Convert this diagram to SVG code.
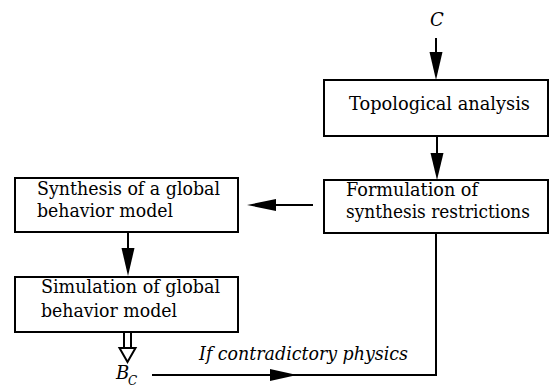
<svg xmlns="http://www.w3.org/2000/svg" width="551" height="387" viewBox="0 0 551 387">
<style>
.box{fill:#fff;stroke:#000;stroke-width:2}
.t{font-family:'DejaVu Serif',serif;font-size:18px;fill:#000}
.i{font-style:italic}
.ln{fill:none;stroke:#000;stroke-width:2}
.hd{fill:#000;stroke:none}
</style>
<rect width="551" height="387" fill="#fff"/>
<g id="input-c"><text class="t i" x="430" y="26">C</text></g>
<g id="topological"><rect class="box" x="324" y="80" width="224" height="56"/><text class="t" x="349" y="110" textLength="181" lengthAdjust="spacingAndGlyphs">Topological analysis</text></g>
<g id="formulation"><rect class="box" x="324" y="180" width="224" height="53"/><text class="t" x="346" y="196" textLength="132" lengthAdjust="spacingAndGlyphs">Formulation of</text><text class="t" x="346" y="218" textLength="184" lengthAdjust="spacingAndGlyphs">synthesis restrictions</text></g>
<g id="synthesis"><rect class="box" x="15" y="178" width="223" height="54"/><text class="t" x="37" y="195" textLength="183" lengthAdjust="spacingAndGlyphs">Synthesis of a global</text><text class="t" x="37" y="217" textLength="136" lengthAdjust="spacingAndGlyphs">behavior model</text></g>
<g id="simulation"><rect class="box" x="15" y="277" width="223" height="55"/><text class="t" x="41" y="293" textLength="179" lengthAdjust="spacingAndGlyphs">Simulation of global</text><text class="t" x="41" y="317" textLength="136" lengthAdjust="spacingAndGlyphs">behavior model</text></g>
<g id="output-bc"><text class="t i" x="116" y="379">B</text><text class="t i" x="128" y="385" style="font-size:12px">C</text></g>
<g id="connectors">
<line class="ln" x1="436" y1="38" x2="436" y2="60"/><polygon class="hd" points="429.5,52 442.5,52 436,80"/>
<line class="ln" x1="437" y1="136" x2="437" y2="160"/><polygon class="hd" points="430.5,153 443.5,153 437,180"/>
<line class="ln" x1="313" y1="205" x2="270" y2="205"/><polygon class="hd" points="276,199 276,211 247,205"/>
<line class="ln" x1="128" y1="232" x2="128" y2="255"/><polygon class="hd" points="121.5,248 134.5,248 128,276"/>
<polyline class="ln" points="152,375 436,375 436,234"/><polygon class="hd" points="270,369 270,381 297,375"/>
<line class="ln" x1="124" y1="332" x2="124" y2="348"/><line class="ln" x1="131" y1="332" x2="131" y2="348"/>
<polygon points="119.5,348 135.5,348 127.5,362" fill="#fff" stroke="#000" stroke-width="2"/>
<text class="t i" x="199" y="360" textLength="209" lengthAdjust="spacingAndGlyphs">If contradictory physics</text>
</g>
</svg>
